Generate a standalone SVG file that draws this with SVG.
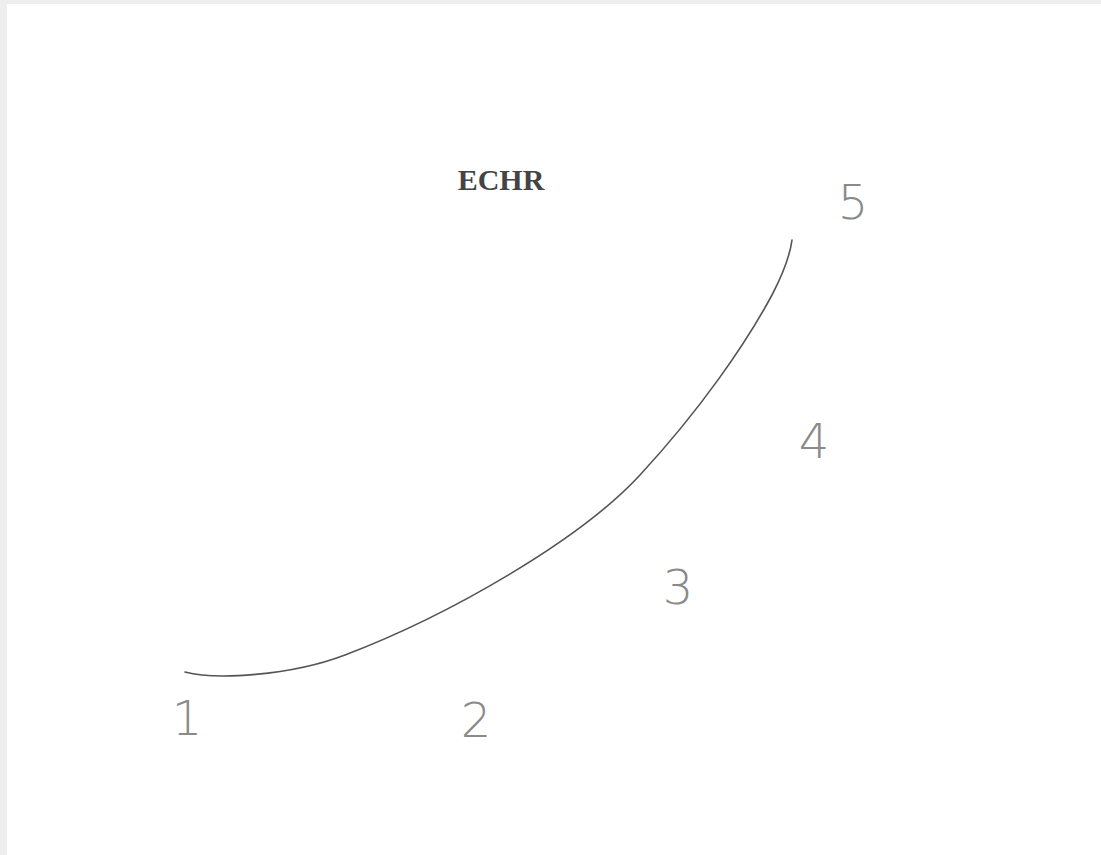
<svg xmlns="http://www.w3.org/2000/svg" width="1101" height="855" viewBox="0 0 1101 855">
<style>
.d{font-family:"DejaVu Sans","Liberation Sans",sans-serif;font-weight:200;font-size:48px;fill:#8a8a8a;text-anchor:middle}
.t{font-family:"Liberation Serif",serif;font-weight:bold;font-size:30px;fill:#444;text-anchor:middle}
</style>
<rect width="1101" height="855" fill="#eeeeee"/>
<rect x="7" y="4" width="1094" height="851" fill="#ffffff"/>
<g id="title"><text class="t" x="501" y="190">ECHR</text></g>
<g id="connectors">
<path d="M185,672 C215,680 290,676 345,655 C450,615 580,540 640,475 C700,410 745,345 772,295 C785,270 790,255 792,240" fill="none" stroke="#555" stroke-width="1.6" stroke-linecap="round"/>
</g>
<g id="n1"><text class="d" x="187" y="735">1</text></g>
<g id="n2"><text class="d" x="476" y="737">2</text></g>
<g id="n3"><text class="d" x="678" y="604">3</text></g>
<g id="n4"><text class="d" x="814" y="458">4</text></g>
<g id="n5"><text class="d" x="853" y="219">5</text></g>
</svg>
